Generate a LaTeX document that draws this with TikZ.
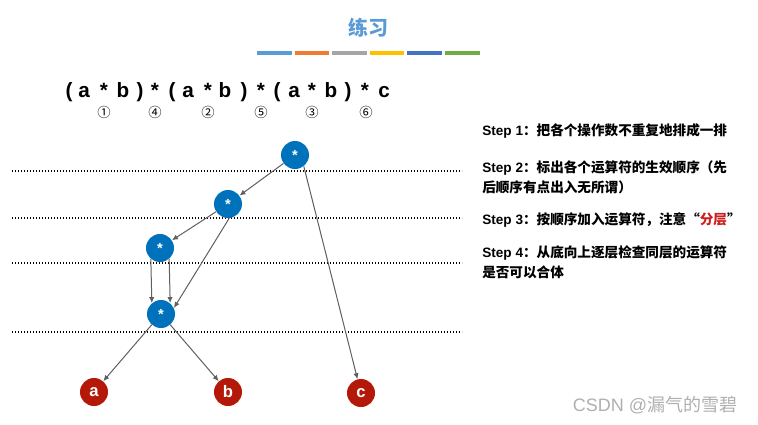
\documentclass[tikz,border=0pt]{standalone}
\usepackage{fontspec}
\setmainfont{Liberation Sans}
\newfontfamily\cjk{Noto Sans CJK SC}
\usetikzlibrary{arrows.meta}
\definecolor{opBlue}{RGB}{0,114,188}
\definecolor{leafRed}{RGB}{180,24,8}
\definecolor{titleBlue}{RGB}{91,155,213}
\definecolor{arrowGray}{RGB}{95,95,95}
\definecolor{noteRed}{RGB}{204,30,30}
\definecolor{markGray}{RGB}{175,175,175}
\definecolor{barBlue}{RGB}{91,155,213}
\definecolor{barOrange}{RGB}{237,125,49}
\definecolor{barGray}{RGB}{165,165,165}
\definecolor{barYellow}{RGB}{255,192,0}
\definecolor{barDarkBlue}{RGB}{68,114,196}
\definecolor{barGreen}{RGB}{112,173,71}
\tikzstyle{slide} = [x = 0.75pt, y = -0.75pt]
\tikzstyle{opNode} = [circle, fill=opBlue, minimum size=21pt, inner sep=0pt, text=white, font=\bfseries\fontsize{11}{11}\selectfont]
\tikzstyle{leafNode} = [circle, fill=leafRed, minimum size=21pt, inner sep=0pt, text=white, font=\bfseries\fontsize{12.5}{12.5}\selectfont]
\tikzstyle{treeArrow} = [color=arrowGray, line width=0.75pt, -{Latex[length=4.5pt, width=4pt]}]
\tikzstyle{levelLine} = [color=black, line width=0.9pt, dash pattern=on 0.9pt off 1.35pt]
\tikzstyle{exprText} = [anchor=base, inner sep=0pt, font=\bfseries\fontsize{15.5}{15.5}\selectfont]
\tikzstyle{orderText} = [inner sep=0pt, font=\cjk\fontsize{10}{10}\selectfont]
\tikzstyle{stepText} = [anchor=base west, inner sep=0pt, font=\bfseries\fontsize{10.2}{10.2}\selectfont]
\newcommand{\cn}[1]{{\cjk #1}}

\begin{document}
\begin{tikzpicture}[slide]
  \useasboundingbox (0,0) rectangle (758,425);

  % title and colour bar
  \node[font=\cjk\bfseries\fontsize{15}{15}\selectfont, text=titleBlue] (title) at (368,28) {练习};
  \foreach \barColor [count=\i from 0] in {barBlue, barOrange, barGray, barYellow, barDarkBlue, barGreen} {
    \fill[\barColor] (257 + 37.6 * \i, 51) rectangle + (34.5, 4);
  }

  % expression and order of the operators
  \foreach \tok/\xpos [count=\i] in {{(}/69, a/84, */104, b/123, {)}/140, */155,
                                      {(}/172, a/188, */208, b/225, {)}/244, */261,
                                      {(}/277, a/294, */312, b/331, {)}/348, */365, c/384} {
    \node[exprText] (tok\i) at (\xpos, 97) {\tok};
  }
  \foreach \mark/\xpos [count=\i] in {①/104, ④/155, ②/208, ⑤/261, ③/312, ⑥/366} {
    \node[orderText] (order\i) at (\xpos, 112) {\mark};
  }

  % levels
  \foreach \ypos in {171, 218, 263, 332} {
    \draw[levelLine] (12, \ypos) -- (462, \ypos);
  }

  % tree
  \node[opNode] (starTop) at (295,155) {*};
  \node[opNode] (starMid) at (228,204) {*};
  \node[opNode] (starLeft) at (160,248) {*};
  \node[opNode] (starLow) at (161,314) {*};
  \node[leafNode] (leafA) at (94,392) {a};
  \node[leafNode] (leafB) at (228,392) {b};
  \node[leafNode] (leafC) at (361,393) {c};

  \draw[treeArrow] (starTop) -- (starMid);
  \draw[treeArrow] (starTop.-52) -- (leafC);
  \draw[treeArrow] (starMid) -- (starLeft);
  \draw[treeArrow] (starMid.-85) -- (starLow.25);
  \draw[treeArrow] (starLeft.-130) -- (starLow.130);
  \draw[treeArrow] (starLeft.-50) -- (starLow.50);
  \draw[treeArrow] (starLow) -- (leafA);
  \draw[treeArrow] (starLow) -- (leafB);

  % steps
  \node[stepText] (stepOne) at (482,135) {Step 1\cn{：把各个操作数不重复地排成一排}};
  \node[stepText] (stepTwo) at (482,172) {Step 2\cn{：标出各个运算符的生效顺序（先}};
  \node[stepText] (stepTwoMore) at (482,192) {\cn{后顺序有点出入无所谓）}};
  \node[stepText] (stepThree) at (482,224) {Step 3\cn{：按顺序加入运算符，注意“\textcolor{noteRed}{分层}”}};
  \node[stepText] (stepFour) at (482,257) {Step 4\cn{：从底向上逐层检查同层的运算符}};
  \node[stepText] (stepFourMore) at (482,277) {\cn{是否可以合体}};

  \node[font=\fontsize{13.5}{13.5}\selectfont, text=markGray] (watermark) at (655,405) {CSDN @\cn{漏气的雪碧}};
\end{tikzpicture}
\end{document}
